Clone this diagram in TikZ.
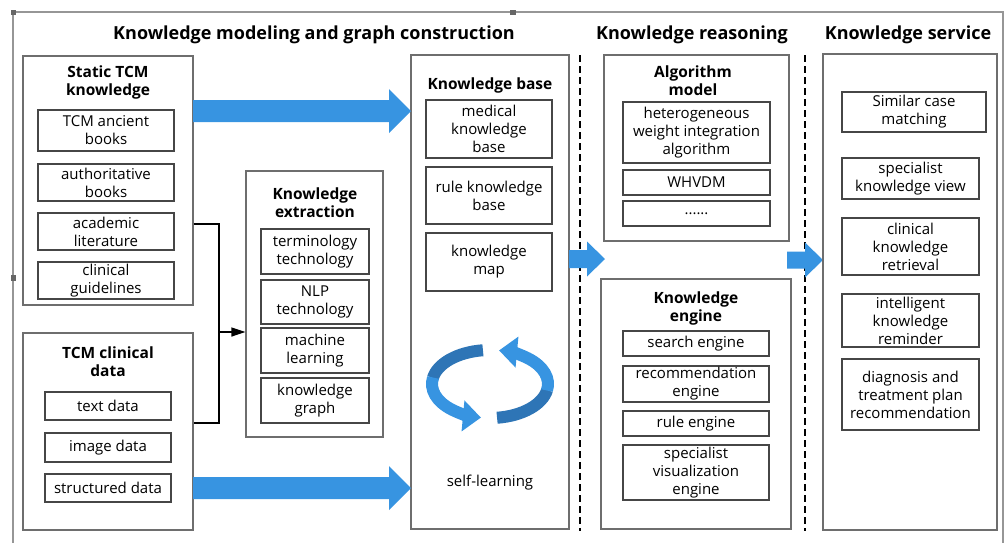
\documentclass[tikz,border=0pt]{standalone}
\usepackage{fontspec}
\setmainfont{Open Sans}
\usetikzlibrary{arrows.meta}
\definecolor{arrowblue}{RGB}{55,148,225}
\definecolor{darkblue}{RGB}{46,117,182}
\definecolor{framegray}{RGB}{150,150,150}
\definecolor{boxgray}{RGB}{110,110,110}
\definecolor{subgray}{RGB}{70,70,70}
\newcommand\bx[7]{\node[#6, minimum width={(#4-#2)*1pt}, minimum height={(#5-#3)*1pt}] (#1) at ({(#2+#4)/2},{(#3+#5)/2}) {#7};}
\newcommand\bigarr[6]{% x0, x1, yc, half shaft, half head, head start
  \fill[arrowblue] (#1,{#3-#4}) -- (#6,{#3-#4}) -- (#6,{#3-#5}) -- (#2,#3) -- (#6,{#3+#5}) -- (#6,{#3+#4}) -- (#1,{#3+#4}) -- cycle;}
\begin{document}
\begin{tikzpicture}[x=1pt,y=-1pt,
  outer/.style={draw=boxgray, line width=1.1pt, rectangle, inner sep=0pt},
  sub/.style={draw=subgray, line width=1.1pt, rectangle, align=center, inner sep=0pt, font=\fontsize{15}{18}\selectfont},
  head/.style={font=\bfseries\fontsize{15.5}{18}\selectfont, align=center, inner sep=0pt},
  plain/.style={font=\fontsize{15}{18}\selectfont, align=center, inner sep=0pt},
  title/.style={font=\bfseries\fontsize{18}{20}\selectfont, inner sep=0pt},
  sep/.style={line width=1.8pt, dash pattern=on 7pt off 4pt},
  conn/.style={line width=1.3pt, black},
]
\useasboundingbox (0,0) rectangle (1005,542);
% outer frame
\draw[framegray, line width=1.3pt] (13,560) -- (13,12) -- (1003,12) -- (1003,560);
\fill[gray!80!black] (11,10) rectangle (16,15);
\fill[gray!80!black] (510,10) rectangle (516,15);
\fill[gray!80!black] (11,275) rectangle (16,281);

% titles
\node[title] (t1) at (314,35) {Knowledge modeling and graph construction};
\node[title] (t2) at (692,35) {Knowledge reasoning};
\node[title] (t3) at (908,35) {Knowledge service};

% separators
\coordinate (s1a) at (580,55); \coordinate (s1b) at (580,531);
\coordinate (s2a) at (805,55); \coordinate (s2b) at (805,531);
\draw[sep] (s1a) -- (s1b);
\draw[sep] (s2a) -- (s2b);

% static TCM knowledge
\bx{static}{23}{56}{193}{305}{outer}{}
\node[head] (statict) at (108,82) {Static TCM\\knowledge};
\bx{anc}{38}{110}{174}{151}{sub}{TCM ancient\\books}
\bx{auth}{38}{164}{174}{201}{sub}{authoritative\\books}
\bx{acad}{38}{213}{174}{250}{sub}{academic\\literature}
\bx{clin}{38}{262}{174}{299}{sub}{clinical\\guidelines}

% TCM clinical data
\bx{cdata}{23}{333}{193}{530}{outer}{}
\node[head] (cdatat) at (108,362) {TCM clinical\\data};
\bx{txt}{45}{392}{171}{420}{sub}{text data}
\bx{img}{45}{433}{171}{462}{sub}{image data}
\bx{str}{45}{474}{171}{502}{sub}{structured data}

% knowledge extraction
\bx{extr}{246}{171}{383}{437}{outer}{}
\node[head] (extrt) at (315,203) {Knowledge\\extraction};
\bx{term}{261}{229}{369}{274}{sub}{terminology\\technology}
\bx{nlp}{261}{280}{369}{324}{sub}{NLP\\technology}
\bx{ml}{261}{328}{369}{373}{sub}{machine\\learning}
\bx{kg}{261}{378}{369}{423}{sub}{knowledge\\graph}

% bracket connector
\coordinate (j1) at (219,224);
\coordinate (j2) at (219,423);
\coordinate (j3) at (219,332);
\draw[conn] (static.east |- j1) -- (j1) -- (j2) -- (cdata.east |- j2);
\draw[conn, -{Triangle[length=14pt,width=9pt]}] (j3) -- (extr.west |- j3);

% knowledge base
\bx{kb}{411}{55}{569}{529}{outer}{}
\node[head] (kbt) at (490,85) {Knowledge base};
\bx{med}{426}{100}{552}{158}{sub}{medical\\knowledge\\base}
\bx{rule}{426}{167}{552}{224}{sub}{rule knowledge\\base}
\bx{kmap}{426}{233}{552}{291}{sub}{knowledge\\map}
\node[plain] (self) at (490,483) {self-learning};

% cycle arrows
\def\cx{490}\def\cy{384}
\draw[darkblue, line width=12pt] (\cx,\cy) ++(263:58 and 34) arc[start angle=263, end angle=190, x radius=58, y radius=34];
\draw[arrowblue, line width=12pt, -{Triangle[length=18pt,width=30pt]}] (\cx,\cy) ++(191:58 and 34) arc[start angle=191, end angle=99, x radius=58, y radius=34];
\draw[darkblue, line width=12pt] (\cx,\cy) ++(83:58 and 34) arc[start angle=83, end angle=10, x radius=58, y radius=34];
\draw[arrowblue, line width=12pt, -{Triangle[length=18pt,width=30pt]}] (\cx,\cy) ++(11:58 and 34) arc[start angle=11, end angle=-81, x radius=58, y radius=34];

% big arrows
\bigarr{193}{411}{111}{11}{22}{389}
\bigarr{193}{411}{488}{11}{22}{389}
\bigarr{569}{605}{259}{9}{17.5}{587}
\bigarr{787}{823}{260}{8.5}{17.5}{805}

% algorithm model
\bx{algo}{604}{55}{789}{241}{outer}{}
\node[head] (algot) at (693,81) {Algorithm\\model};
\bx{hwia}{623}{102}{770}{163}{sub}{heterogeneous\\weight integration\\algorithm}
\bx{whv}{623}{170}{770}{195}{sub}{WHVDM}
\bx{dots}{623}{201}{770}{226}{sub}{......}

% knowledge engine
\bx{eng}{601}{279}{791}{529}{outer}{}
\node[head] (engt) at (696,308) {Knowledge\\engine};
\bx{search}{623}{331}{769}{356}{sub}{search engine}
\bx{recom}{623}{366}{769}{402}{sub}{recommendation\\engine}
\bx{ruleng}{623}{411}{769}{436}{sub}{rule engine}
\bx{vis}{623}{445}{769}{500}{sub}{specialist\\visualization\\engine}

% knowledge service
\bx{serv}{823}{54}{997}{530}{outer}{}
\bx{sim}{842}{92}{986}{132}{sub}{Similar case\\matching}
\bx{spec}{842}{158}{979}{199}{sub}{specialist\\knowledge view}
\bx{retr}{842}{218}{979}{275}{sub}{clinical\\knowledge\\retrieval}
\bx{remind}{842}{294}{979}{347}{sub}{intelligent\\knowledge\\reminder}
\bx{diag}{842}{359}{979}{430}{sub}{diagnosis and\\treatment plan\\recommendation}
\end{tikzpicture}
\end{document}
